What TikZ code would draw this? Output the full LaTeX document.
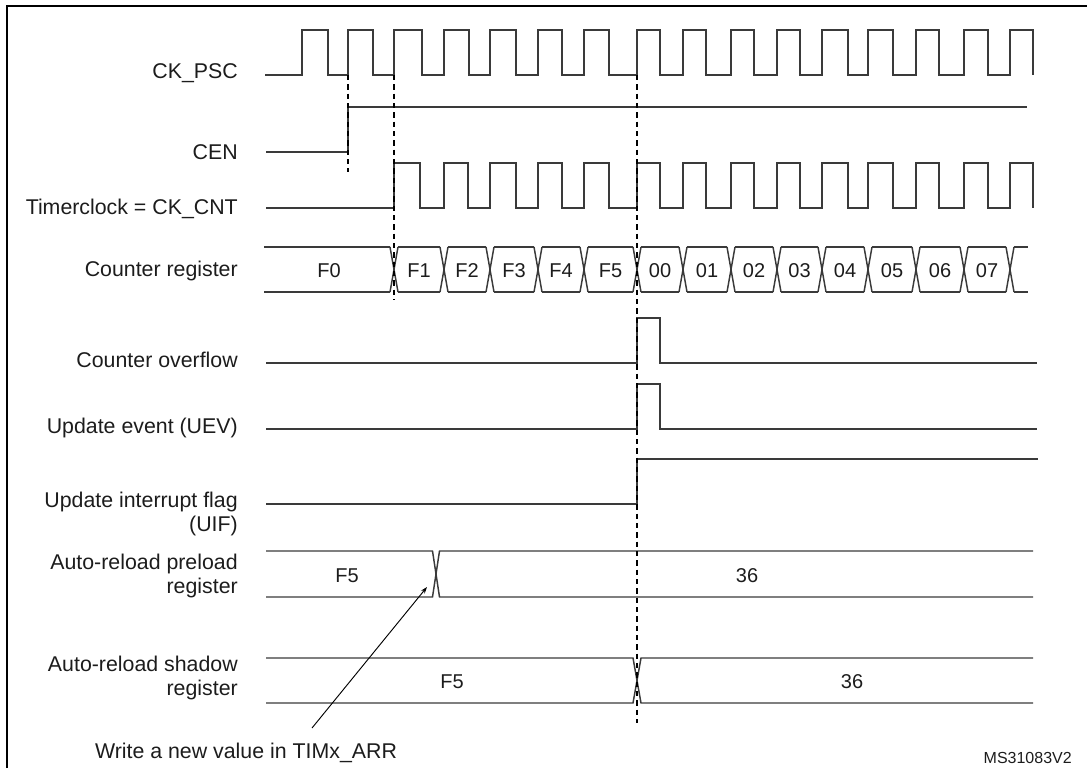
\documentclass[tikz,border=0pt]{standalone}
\usepackage{fontspec}
\setmainfont{Liberation Sans}
\usetikzlibrary{arrows.meta}
\definecolor{sigcol}{HTML}{3A3A3A}
\definecolor{txtcol}{HTML}{1C1C1C}
\begin{document}
\begin{tikzpicture}[x=0.75pt,y=-0.75pt,
  sig/.style={draw=sigcol,line width=1.1pt,line join=miter},
  lab/.style={anchor=base east,inner sep=0pt,text=txtcol,font=\fontsize{16}{19}\selectfont},
  val/.style={anchor=base,inner sep=0pt,text=txtcol,font=\fontsize{15}{18}\selectfont},
  guide/.style={draw=black,line width=0.9pt,dash pattern=on 4pt off 3pt},
  note/.style={draw=black,line width=0.7pt,-{Stealth[length=5pt,width=3.5pt]}}]
\useasboundingbox (0,0) rectangle (1087,768);
% frame
\draw[black,line width=1.9pt] (7,768) -- (7,6) -- (1087,6);
% labels
\node[lab] (lpsc) at (238,78) {CK\_PSC};
\node[lab] (lcen) at (238,159) {CEN};
\node[lab] (lcnt) at (238,214) {Timerclock = CK\_CNT};
\node[lab] (lreg) at (238,276) {Counter register};
\node[lab] (lovf) at (238,367) {Counter overflow};
\node[lab] (luev) at (238,433) {Update event (UEV)};
\node[lab] (luifa) at (238,507) {Update interrupt flag};
\node[lab] (luifb) at (238,531) {(UIF)};
\node[lab] (lprea) at (238,569) {Auto-reload preload};
\node[lab] (lpreb) at (238,593) {register};
\node[lab] (lshaa) at (238,671) {Auto-reload shadow};
\node[lab] (lshab) at (238,695) {register};
% CK_PSC
\draw[sig] (265,75) foreach \r/\f in {302/328,348/373,394/422,444/469,490/516,538/562,584/609,637/660,683/706,731/754,777/800,822/848,868/893,916/939,964/988,1010/1033} { -- (\r,75) -- (\r,30) -- (\f,30) -- (\f,75) };
% CEN
\draw[sig] (266,152) -- (348,152) -- (348,107) -- (1027,107);
% CK_CNT
\draw[sig] (266,208) foreach \r/\f in {394/420,444/468,490/516,538/562,584/609,637/660,683/706,731/754,777/800,822/848,868/893,916/939,964/988,1010/1033} { -- (\r,208) -- (\r,163) -- (\f,163) -- (\f,208) };
% Counter register
\draw[sig] (264,247) -- (390,247) (264,292) -- (390,292);
\foreach \t in {394,444,490,538,584,637,683,731,777,822,868,916,964,1010}
  \draw[sig] (\t-4,247) -- (\t+4,292) (\t-4,292) -- (\t+4,247);
\foreach \a/\b/\v in {394/444/F1,444/490/F2,490/538/F3,538/584/F4,584/637/F5,637/683/00,683/731/01,731/777/02,777/822/03,822/868/04,868/916/05,916/964/06,964/1010/07}
  {\draw[sig] (\a+4,247) -- (\b-4,247) (\a+4,292) -- (\b-4,292);
   \node[val] (c\v) at ({(\a+\b)/2},277) {\v};}
\draw[sig] (1014,247) -- (1028,247) (1014,292) -- (1028,292);
\node[val] (cF0) at (329,277) {F0};
% Counter overflow
\draw[sig] (266,363) -- (637,363) -- (637,318) -- (660,318) -- (660,363) -- (1037,363);
% Update event
\draw[sig] (266,429) -- (637,429) -- (637,384) -- (660,384) -- (660,429) -- (1037,429);
% UIF
\draw[sig] (266,504) -- (637,504) -- (637,459) -- (1038,459);
% Auto-reload preload
\draw[sig] (266,551) -- (432.5,551) -- (439.5,597) -- (1033,597);
\draw[sig] (266,597) -- (432.5,597) -- (439.5,551) -- (1033,551);
\node[val] (pF5) at (347,582) {F5};
\node[val] (p36) at (747,582) {36};
% Auto-reload shadow
\draw[sig] (266,658) -- (633,658) -- (641,703) -- (1033,703);
\draw[sig] (266,703) -- (633,703) -- (641,658) -- (1033,658);
\node[val] (sF5) at (452,688) {F5};
\node[val] (s36) at (852,688) {36};
% guides
\draw[guide] (348,75) -- (348,172);
\draw[guide] (394,75) -- (394,300);
\draw[guide] (637,75) -- (637,723);
% note
\node[anchor=base,inner sep=0pt,text=txtcol,font=\fontsize{16}{19}\selectfont] (wnote) at (246,758) {Write a new value in TIMx\_ARR};
\coordinate (wtail) at (312,728);
\coordinate (whead) at (427,587);
\draw[note] (wtail) -- (whead);
\node[anchor=base east,inner sep=0pt,text=txtcol,font=\fontsize{12}{14}\selectfont] (ms) at (1072,763) {MS31083V2};
\end{tikzpicture}
\end{document}
